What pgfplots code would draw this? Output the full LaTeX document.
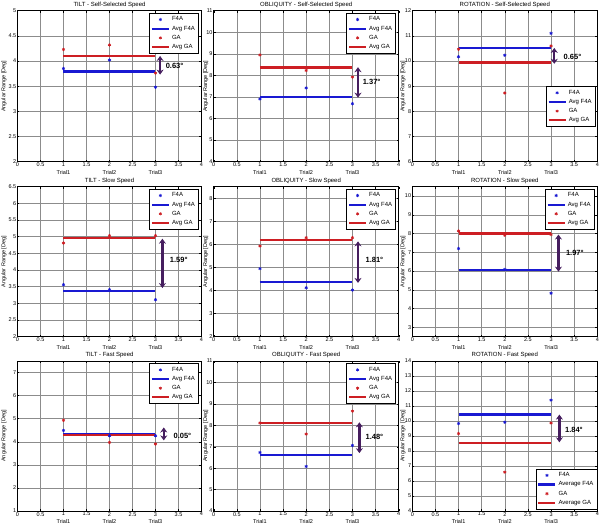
\documentclass[border=0pt]{standalone}
\usepackage{pgfplots}
\pgfplotsset{compat=1.18}
\usepackage{fontspec}
\setmainfont{Liberation Sans}
\usetikzlibrary{arrows.meta}
\definecolor{fblue}{RGB}{25,25,210}
\definecolor{gred}{RGB}{205,30,35}
\definecolor{arr}{RGB}{70,30,95}

\pgfplotsset{
  panel/.style={
    scale only axis, width=184pt, height=150pt,
    xmin=0, xmax=4,
    xtick={0,0.5,1,1.5,2,2.5,3,3.5,4},
    xticklabels={0,0.5,{1\\Trial1},1.5,{2\\Trial2},2.5,{3\\Trial3},3.5,4},
    xticklabel style={align=center, font=\fontsize{5.5}{7.5}\selectfont, inner sep=1pt},
    yticklabel style={font=\fontsize{5.5}{7}\selectfont, inner sep=1pt},
    /pgf/number format/assume math mode=true,
    grid=major, major grid style={black!45, line width=0.45pt},
    axis line style={line width=0.6pt},
    tick align=inside, major tick length=2pt, tick style={black, line width=0.4pt},
    title style={font=\fontsize{6}{7}\selectfont, inner sep=1pt, yshift=-4pt},
    ylabel={Angular Range [Deg]},
    ylabel style={font=\fontsize{5.5}{7}\selectfont, anchor=center},
    legend cell align=left,
    legend style={font=\fontsize{6}{7}\selectfont, at={(0.985,0.985)}, anchor=north east,
      draw=black, line width=0.6pt, inner sep=1.5pt, row sep=-0.5pt},
  },
  c1/.style={ylabel style={at={(axis description cs:-0.073,0.5)}}},
  c2/.style={ylabel style={at={(axis description cs:-0.043,0.5)}}},
  c3/.style={ylabel style={at={(axis description cs:-0.051,0.5)}}},
  f4a/.style={only marks, mark=asterisk, mark size=1.6pt, color=fblue, mark options={line width=0.7pt}},
  avgf/.style={color=fblue, line width=2.2pt, no marks},
  ga/.style={only marks, mark=asterisk, mark size=1.6pt, color=gred, mark options={line width=0.7pt}},
  avgg/.style={color=gred, line width=2.2pt, no marks},
}
\tikzset{
  arrowline/.style={arr, line width=2.4pt, {Stealth[length=5pt,width=7pt]}-{Stealth[length=5pt,width=7pt]}},
  degl/.style={font=\bfseries\fontsize{7.5}{8}\selectfont, anchor=west, inner sep=0pt, text=black},
}

\begin{document}
\begin{tikzpicture}
% ---------- Row 1 ----------
\begin{axis}[panel, c1, at={(17.5pt,365.3pt)}, anchor=south west, height=151pt,
  ymin=2, ymax=5, ytick={2,2.5,3,3.5,4,4.5,5},
  title={TILT - Self-Selected Speed}]
\addplot[f4a] coordinates {(1,3.85) (2,4.02) (3,3.48)};
\addlegendentry{F4A}
\addplot[avgf] coordinates {(1,3.79) (3,3.79)};
\addlegendentry{Avg F4A}
\addplot[ga] coordinates {(1,4.23) (2,4.32) (3,3.76)};
\addlegendentry{GA}
\addplot[avgg] coordinates {(1,4.10) (3,4.10)};
\addlegendentry{Avg GA}
\draw[arrowline] (axis cs:3.1,4.10) -- (axis cs:3.1,3.73);
\node[degl] at (axis cs:3.22,3.91) {0.63°};
\end{axis}

\begin{axis}[panel, c2, at={(213.7pt,365.3pt)}, anchor=south west, width=185pt, height=151pt,
  ymin=4, ymax=11, ytick={4,5,6,7,8,9,10,11},
  title={OBLIQUITY - Self-Selected Speed}]
\addplot[f4a] coordinates {(1,6.91) (2,7.42) (3,6.69)};
\addlegendentry{F4A}
\addplot[avgf] coordinates {(1,7.01) (3,7.01)};
\addlegendentry{Avg F4A}
\addplot[ga] coordinates {(1,8.95) (2,8.23) (3,7.92)};
\addlegendentry{GA}
\addplot[avgg] coordinates {(1,8.37) (3,8.37)};
\addlegendentry{Avg GA}
\draw[arrowline] (axis cs:3.12,8.38) -- (axis cs:3.12,6.97);
\node[degl] at (axis cs:3.22,7.72) {1.37°};
\end{axis}

\begin{axis}[panel, c3, at={(412.3pt,365.3pt)}, anchor=south west, width=185pt, height=151pt,
  ymin=6, ymax=12, ytick={6,7,8,9,10,11,12},
  title={ROTATION - Self-Selected Speed},
  legend style={at={(0.99,0.23)}, anchor=south east}]
\addplot[f4a] coordinates {(1,10.17) (2,10.23) (3,11.10)};
\addlegendentry{F4A}
\addplot[avgf] coordinates {(1,10.52) (3,10.52)};
\addlegendentry{Avg F4A}
\addplot[ga] coordinates {(1,10.47) (2,8.73) (3,10.6)};
\addlegendentry{GA}
\addplot[avgg] coordinates {(1,9.94) (3,9.94)};
\addlegendentry{Avg GA}
\draw[arrowline] (axis cs:3.07,10.52) -- (axis cs:3.07,9.89);
\node[degl] at (axis cs:3.27,10.15) {0.65°};
\end{axis}

% ---------- Row 2 ----------
\begin{axis}[panel, c1, at={(17.5pt,190.3pt)}, anchor=south west,
  ymin=2, ymax=6.5, ytick={2,2.5,3,3.5,4,4.5,5,5.5,6,6.5},
  title={TILT - Slow Speed}]
\addplot[f4a] coordinates {(1,3.56) (2,3.41) (3,3.11)};
\addlegendentry{F4A}
\addplot[avgf] coordinates {(1,3.37) (3,3.37)};
\addlegendentry{Avg F4A}
\addplot[ga] coordinates {(1,4.81) (2,5.03) (3,5.03)};
\addlegendentry{GA}
\addplot[avgg] coordinates {(1,4.96) (3,4.96)};
\addlegendentry{Avg GA}
\draw[arrowline] (axis cs:3.15,4.94) -- (axis cs:3.15,3.46);
\node[degl] at (axis cs:3.31,4.31) {1.59°};
\end{axis}

\begin{axis}[panel, c2, at={(213.7pt,190.3pt)}, anchor=south west, width=185pt,
  ymin=2, ymax=8.5, ytick={2,3,4,5,6,7,8},
  title={OBLIQUITY - Slow Speed}]
\addplot[f4a] coordinates {(1,4.95) (2,4.12) (3,4.02)};
\addlegendentry{F4A}
\addplot[avgf] coordinates {(1,4.37) (3,4.37)};
\addlegendentry{Avg F4A}
\addplot[ga] coordinates {(1,5.93) (2,6.29) (3,6.29)};
\addlegendentry{GA}
\addplot[avgg] coordinates {(1,6.19) (3,6.19)};
\addlegendentry{Avg GA}
\draw[arrowline] (axis cs:3.12,6.13) -- (axis cs:3.12,4.33);
\node[degl] at (axis cs:3.28,5.31) {1.81°};
\end{axis}

\begin{axis}[panel, c3, at={(412.3pt,190.3pt)}, anchor=south west, width=185pt,
  ymin=2.5, ymax=10.5, ytick={3,4,5,6,7,8,9,10},
  title={ROTATION - Slow Speed}]
\addplot[f4a] coordinates {(1,7.2) (2,6.09) (3,4.82)};
\addlegendentry{F4A}
\addplot[avgf] coordinates {(1,6.04) (3,6.04)};
\addlegendentry{Avg F4A}
\addplot[ga] coordinates {(1,8.14) (2,7.91) (3,7.95)};
\addlegendentry{GA}
\addplot[avgg] coordinates {(1,8.0) (3,8.0)};
\addlegendentry{Avg GA}
\draw[arrowline] (axis cs:3.16,7.95) -- (axis cs:3.16,5.97);
\node[degl] at (axis cs:3.32,6.99) {1.97°};
\end{axis}

% ---------- Row 3 ----------
\begin{axis}[panel, c1, at={(17.5pt,16pt)}, anchor=south west,
  ymin=1, ymax=7.5, ytick={1,2,3,4,5,6,7},
  title={TILT - Fast Speed}]
\addplot[f4a] coordinates {(1,4.49) (2,4.26) (3,4.26)};
\addlegendentry{F4A}
\addplot[avgf] coordinates {(1,4.33) (3,4.33)};
\addlegendentry{Avg F4A}
\addplot[ga] coordinates {(1,4.93) (2,3.97) (3,3.90)};
\addlegendentry{GA}
\addplot[avgg] coordinates {(1,4.28) (3,4.28)};
\addlegendentry{Avg GA}
\draw[arrowline] (axis cs:3.18,4.62) -- (axis cs:3.18,4.06);
\node[degl] at (axis cs:3.39,4.26) {0.05°};
\end{axis}

\begin{axis}[panel, c2, at={(213.7pt,16pt)}, anchor=south west, width=185pt,
  ymin=4, ymax=11, ytick={4,5,6,7,8,9,10,11},
  title={OBLIQUITY - Fast Speed}]
\addplot[f4a] coordinates {(1,6.73) (2,6.08) (3,7.06)};
\addlegendentry{F4A}
\addplot[avgf] coordinates {(1,6.63) (3,6.63)};
\addlegendentry{Avg F4A}
\addplot[ga] coordinates {(1,8.11) (2,7.59) (3,8.66)};
\addlegendentry{GA}
\addplot[avgg] coordinates {(1,8.12) (3,8.12)};
\addlegendentry{Avg GA}
\draw[arrowline] (axis cs:3.15,8.14) -- (axis cs:3.15,6.70);
\node[degl] at (axis cs:3.28,7.45) {1.48°};
\end{axis}

\begin{axis}[panel, c3, at={(412.3pt,16pt)}, anchor=south west, width=185pt,
  ymin=4, ymax=14, ytick={4,5,6,7,8,9,10,11,12,13,14},
  title={ROTATION - Fast Speed},
  legend style={at={(1.0,0.01)}, anchor=south east}]
\addplot[f4a] coordinates {(1,9.83) (2,9.92) (3,11.39)};
\addlegendentry{F4A}
\addplot[avgf] coordinates {(1,10.43) (3,10.43)};
\addlegendentry{Average F4A}
\addplot[ga] coordinates {(1,9.16) (2,6.59) (3,9.87)};
\addlegendentry{GA}
\addplot[avgg] coordinates {(1,8.55) (3,8.55)};
\addlegendentry{Average GA}
\draw[arrowline] (axis cs:3.18,10.43) -- (axis cs:3.18,8.58);
\node[degl] at (axis cs:3.30,9.42) {1.84°};
\end{axis}

\pgfresetboundingbox
\path[use as bounding box] (0pt,0pt) rectangle (600pt,527pt);
\end{tikzpicture}
\end{document}
